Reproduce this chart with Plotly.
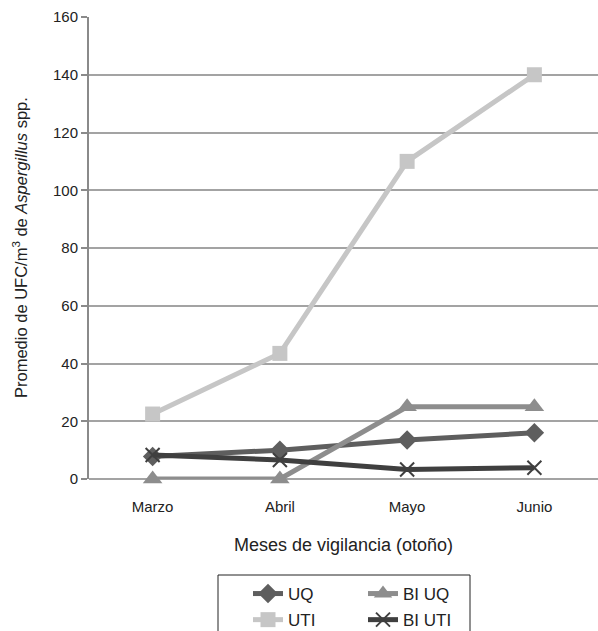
import plotly.graph_objects as go

months = ["Marzo", "Abril", "Mayo", "Junio"]
uq = [7.8, 10.0, 13.5, 16.0]
uti = [22.5, 43.5, 110.0, 140.0]
bi_uq = [0.0, 0.0, 25.0, 25.0]
bi_uti = [8.3, 6.6, 3.3, 3.9]
y_ticks = [0, 20, 40, 60, 80, 100, 120, 140, 160]

FONT = "Liberation Sans, Arial, sans-serif"
W, H = 598, 631
L, T, B = 89, 17, 152
PW, PH = W - L, H - T - B

fig = go.Figure()
fig.add_trace(go.Scatter(x=months, y=uq, name="UQ", mode="lines+markers", cliponaxis=False,
                         line=dict(color="#5e5e5e", width=5),
                         marker=dict(symbol="diamond", size=15, color="#5e5e5e"),
                         legend="legend", legendgroup="uq"))
fig.add_trace(go.Scatter(x=months, y=bi_uq, name="BI UQ", mode="lines+markers", cliponaxis=False,
                         line=dict(color="#8d8d8d", width=5),
                         marker=dict(symbol="triangle-up", size=17, color="#8d8d8d"),
                         legend="legend2", legendgroup="biuq"))
fig.add_trace(go.Scatter(x=months, y=uti, name="UTI", mode="lines+markers", cliponaxis=False,
                         line=dict(color="#c6c6c6", width=5),
                         marker=dict(symbol="square", size=15, color="#c6c6c6"),
                         legend="legend", legendgroup="uti"))
fig.add_trace(go.Scatter(x=months, y=bi_uti, name="BI UTI", mode="lines+markers", cliponaxis=False,
                         line=dict(color="#3f3f3f", width=5),
                         marker=dict(symbol="x-thin", size=14, color="#3f3f3f",
                                     line=dict(color="#3f3f3f", width=2)),
                         legend="legend2", legendgroup="biuti"))

fig.update_layout(
    width=W, height=H,
    margin=dict(l=L, r=0, t=T, b=B, autoexpand=False),
    paper_bgcolor="white", plot_bgcolor="white",
    font=dict(family=FONT, size=15, color="#222"),
    showlegend=True,
    legend=dict(x=(248 - L) / PW, y=(H - B - 576) / PH, xanchor="left", yanchor="top",
                traceorder="grouped", tracegroupgap=1,
                font=dict(size=17, family=FONT, color="#222"),
                bgcolor="rgba(0,0,0,0)", borderwidth=0),
    legend2=dict(x=(363 - L) / PW, y=(H - B - 576) / PH, xanchor="left", yanchor="top",
                 traceorder="grouped", tracegroupgap=1,
                 font=dict(size=17, family=FONT, color="#222"),
                 bgcolor="rgba(0,0,0,0)", borderwidth=0),
    shapes=[dict(type="rect", xref="paper", yref="paper",
                 x0=(218 - L) / PW, x1=(470 - L) / PW,
                 y0=-0.40, y1=(H - B - 575) / PH,
                 line=dict(color="#222", width=1), fillcolor="rgba(0,0,0,0)")],
    annotations=[dict(text="Promedio de UFC/m<sup>3</sup> de <i>Aspergillus</i> spp.",
                      xref="paper", yref="paper", x=(20 - L) / PW, y=0.5,
                      xanchor="center", yanchor="middle", textangle=-90, showarrow=False,
                      font=dict(size=16.5, family=FONT, color="#222"))],
)

fig.update_xaxes(
    type="category", categoryorder="array", categoryarray=months,
    range=[-0.5, len(months) - 0.5],
    showgrid=False, showline=False, zeroline=False, ticks="",
    automargin=False,
    tickfont=dict(size=15, family=FONT, color="#222"),
    ticklabelstandoff=17,
    title=dict(text="Meses de vigilancia (otoño)", font=dict(size=18, family=FONT, color="#222"),
               standoff=24),
)
fig.update_yaxes(
    range=[0, 160], tickvals=y_ticks, ticktext=[str(v) for v in y_ticks],
    automargin=False,
    showgrid=True, gridcolor="#a3a3a3", gridwidth=2,
    showline=True, linecolor="#8a8a8a", linewidth=2,
    zeroline=True, zerolinecolor="#a3a3a3", zerolinewidth=2,
    ticks="outside", ticklen=6, tickcolor="#8a8a8a", tickwidth=2,
    tickfont=dict(size=15, family=FONT, color="#222"),
)

fig.write_html("out.html", config={"displayModeBar": False},
               post_script="document.body.style.margin='0';")
